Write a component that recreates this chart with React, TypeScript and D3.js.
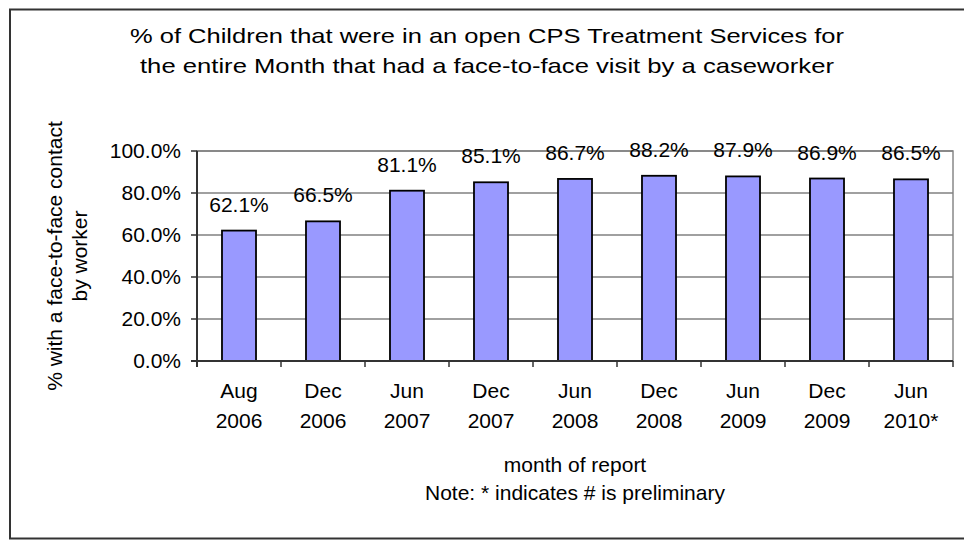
import * as React from "react"
import * as d3 from "d3"

const months = ["Aug", "Dec", "Jun", "Dec", "Jun", "Dec", "Jun", "Dec", "Jun"]
const years = ["2006", "2006", "2007", "2007", "2008", "2008", "2009", "2009", "2010*"]
const values = [0.621, 0.665, 0.811, 0.851, 0.867, 0.882, 0.879, 0.869, 0.865]
const yTicks = [0, 0.2, 0.4, 0.6, 0.8, 1.0]

const titleLines = [
  "% of Children that were in an open CPS Treatment Services for",
  "the entire Month that had a face-to-face visit by a caseworker",
]
// the title glyphs in the original are drawn wider than normal
const titleWidths = [714, 694]
const yTitleLines = ["% with a face-to-face contact", "by worker"]
const xTitle = "month of report"
const note = "Note: * indicates # is preliminary"

const W = 964
const H = 546
const font = "Arial, 'Liberation Sans', sans-serif"

export default function App() {
  const margin = { top: 151, right: 11, bottom: 185, left: 197 }
  const plotW = W - margin.left - margin.right
  const plotH = H - margin.top - margin.bottom

  const keys = months.map((m, i) => `${m} ${years[i]}`)
  const x = d3.scaleBand().domain(keys).range([0, plotW]).padding(0)
  const y = d3.scaleLinear().domain([0, 1]).range([plotH, 0])
  const fmt = d3.format(".1%")
  const barW = x.bandwidth() * 0.405

  return (
    <svg
      width={W}
      height={H}
      style={{ position: "absolute", left: 0, top: 0, background: "#fff" }}
      fontFamily={font}
    >
      <rect x={10} y={9.5} width={970} height={529} fill="#fff" stroke="#333" strokeWidth={2} />

      {titleLines.map((t, i) => (
        <text
          key={i}
          x={487}
          y={43 + i * 30}
          textAnchor="middle"
          fontSize={21}
          textLength={titleWidths[i]}
          lengthAdjust="spacingAndGlyphs"
          fill="#000"
        >
          {t}
        </text>
      ))}

      <g transform={`translate(${margin.left},${margin.top})`}>
        {/* plot frame + grid */}
        <rect x={0} y={0} width={plotW} height={plotH} fill="none" stroke="#888" strokeWidth={1.5} />
        {yTicks.map((t) => (
          <line key={t} x1={0} x2={plotW} y1={y(t)} y2={y(t)} stroke="#808080" strokeWidth={1.5} />
        ))}

        {values.map((v, i) => (
          <rect
            key={i}
            x={(x(keys[i]) as number) + (x.bandwidth() - barW) / 2}
            y={y(v)}
            width={barW}
            height={plotH - y(v)}
            fill="#9999FF"
            stroke="#000"
            strokeWidth={1.8}
          />
        ))}

        {values.map((v, i) => (
          <text
            key={i}
            x={(x(keys[i]) as number) + x.bandwidth() / 2}
            y={y(v) - 19}
            textAnchor="middle"
            fontSize={21}
          >
            {fmt(v)}
          </text>
        ))}

        {/* axes */}
        <line x1={0} x2={0} y1={0} y2={plotH + 6} stroke="#333" strokeWidth={2} />
        <line x1={-6} x2={plotW} y1={plotH} y2={plotH} stroke="#333" strokeWidth={2} />
        {yTicks.map((t) => (
          <g key={t}>
            <line x1={-6} x2={0} y1={y(t)} y2={y(t)} stroke="#333" strokeWidth={1.5} />
            <text x={-16} y={y(t) + 7} textAnchor="end" fontSize={21}>
              {fmt(t)}
            </text>
          </g>
        ))}
        {keys.map((k, i) => (
          <g key={k + i}>
            <line
              x1={(x(k) as number) + x.bandwidth()}
              x2={(x(k) as number) + x.bandwidth()}
              y1={plotH}
              y2={plotH + 6}
              stroke="#333"
              strokeWidth={1.5}
            />
            <text x={(x(k) as number) + x.bandwidth() / 2} y={plotH + 37} textAnchor="middle" fontSize={21}>
              {months[i]}
            </text>
            <text x={(x(k) as number) + x.bandwidth() / 2} y={plotH + 67} textAnchor="middle" fontSize={21}>
              {years[i]}
            </text>
          </g>
        ))}

        <text x={plotW / 2} y={plotH + 111} textAnchor="middle" fontSize={21}>
          {xTitle}
        </text>
        <text x={plotW / 2} y={plotH + 139} textAnchor="middle" fontSize={21}>
          {note}
        </text>
      </g>

      {yTitleLines.map((t, i) => (
        <text
          key={i}
          transform={`translate(${62 + i * 25},${margin.top + plotH / 2}) rotate(-90)`}
          textAnchor="middle"
          fontSize={21}
        >
          {t}
        </text>
      ))}
    </svg>
  )
}
